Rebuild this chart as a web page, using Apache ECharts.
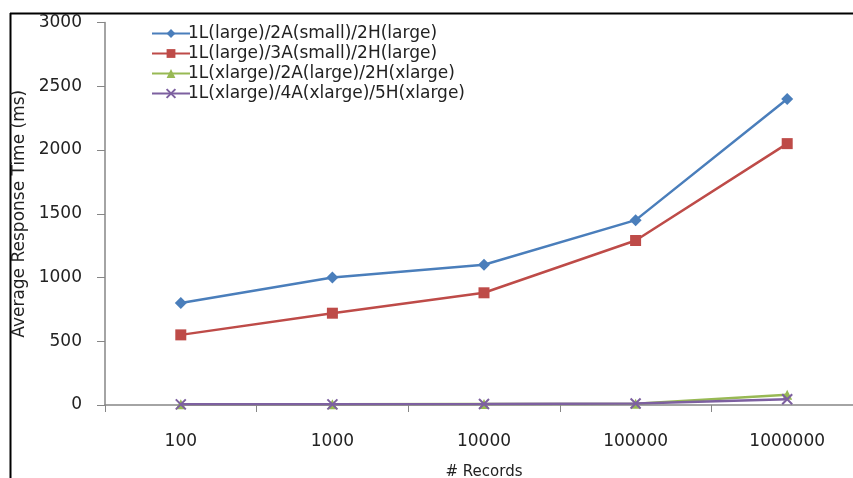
<!DOCTYPE html>
<html>
<head>
<meta charset="utf-8">
<script src="https://cdn.jsdelivr.net/npm/echarts@6/dist/echarts.min.js"></script>
<style>
html,body{margin:0;padding:0;background:#fff;}
#chart{width:853px;height:478px;}
</style>
</head>
<body>
<div id="chart"></div>
<script>
const categories = ['100', '1000', '10000', '100000', '1000000'];
const seriesNames = [
  '1L(large)/2A(small)/2H(large)',
  '1L(large)/3A(small)/2H(large)',
  '1L(xlarge)/2A(large)/2H(xlarge)',
  '1L(xlarge)/4A(xlarge)/5H(xlarge)'
];
const blueValues = [800, 1000, 1100, 1450, 2400];
const redValues = [550, 720, 880, 1290, 2050];
const greenValues = [5, 5, 8, 10, 80];
const purpleValues = [5, 5, 8, 12, 45];
const colors = ['#4a7ebb', '#be4b48', '#98b954', '#7d60a0'];
const symbols = ['diamond', 'rect', 'triangle', 'path://M0,0L10,10M10,0L0,10'];
const symbolSizes = [12, 11, 10, 10];
const allValues = [blueValues, redValues, greenValues, purpleValues];

const chart = echarts.init(document.getElementById('chart'));
const font = 'DejaVu Sans';
chart.setOption({
  animation: false,
  backgroundColor: '#fff',
  color: colors,
  graphic: [
    { type: 'line', shape: { x1: 10.5, y1: 13, x2: 10.5, y2: 478 }, style: { stroke: '#000', lineWidth: 2 } },
    { type: 'line', shape: { x1: 10, y1: 13.5, x2: 853, y2: 13.5 }, style: { stroke: '#000', lineWidth: 2 } }
  ],
  legend: {
    orient: 'vertical',
    left: 146,
    top: 20,
    itemWidth: 38,
    itemHeight: 11,
    itemGap: 3,
    data: seriesNames,
    textStyle: { fontFamily: font, fontSize: 17, color: '#222', padding: [0, 0, 0, -7] }
  },
  grid: { left: 105, right: -10, top: 22.5, bottom: 73, outerBoundsMode: 'none', containLabel: false },
  xAxis: {
    type: 'category',
    data: categories,
    name: '# Records',
    nameLocation: 'middle',
    nameGap: 60,
    nameTextStyle: { fontFamily: font, fontSize: 15, color: '#222' },
    axisLine: { lineStyle: { color: '#868686', width: 1.5 } },
    axisTick: { show: true, length: 7, lineStyle: { color: '#868686' } },
    axisLabel: { fontFamily: font, fontSize: 17, color: '#222', margin: 28 }
  },
  yAxis: {
    type: 'value',
    min: 0,
    max: 3000,
    interval: 500,
    name: 'Average Response Time (ms)',
    nameLocation: 'middle',
    nameGap: 77,
    nameTextStyle: { fontFamily: font, fontSize: 17, color: '#222' },
    axisLine: { show: true, lineStyle: { color: '#868686', width: 1.5 } },
    axisTick: { show: true, length: 8, lineStyle: { color: '#868686' } },
    splitLine: { show: false },
    axisLabel: { fontFamily: font, fontSize: 17, color: '#222', margin: 23, formatter: v => String(v) }
  },
  series: allValues.map((vals, i) => ({
    name: seriesNames[i],
    type: 'line',
    data: vals,
    symbol: symbols[i],
    symbolSize: symbolSizes[i],
    showAllSymbol: true,
    lineStyle: { width: 2.5, color: colors[i] },
    itemStyle: i === 3 ? { color: colors[i], borderColor: colors[i], borderWidth: 2 } : { color: colors[i] },
    z: 2 + i
  }))
});
</script>
</body>
</html>
